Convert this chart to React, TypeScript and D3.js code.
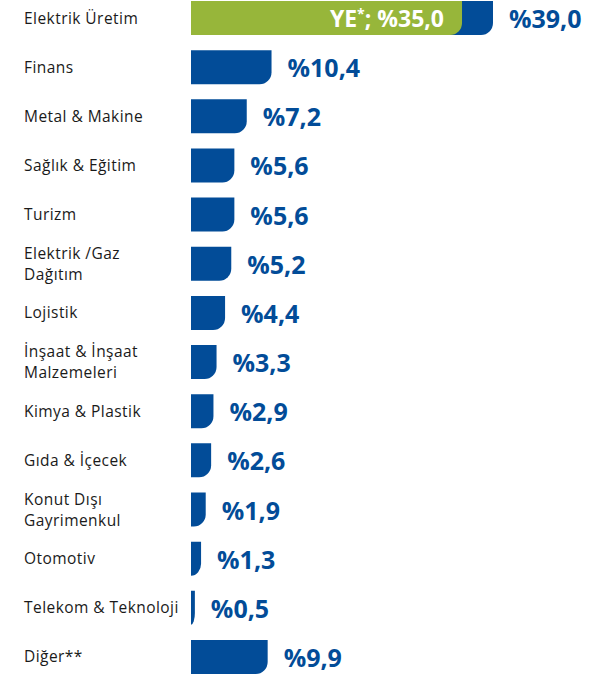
import React from "react";
import * as d3 from "d3";

const categories: string[][] = [
  ["Elektrik Üretim"],
  ["Finans"],
  ["Metal & Makine"],
  ["Sağlık & Eğitim"],
  ["Turizm"],
  ["Elektrik /Gaz", "Dağıtım"],
  ["Lojistik"],
  ["İnşaat & İnşaat", "Malzemeleri"],
  ["Kimya & Plastik"],
  ["Gıda & İçecek"],
  ["Konut Dışı", "Gayrimenkul"],
  ["Otomotiv"],
  ["Telekom & Teknoloji"],
  ["Diğer**"],
];
const values: number[] = [39.0, 10.4, 7.2, 5.6, 5.6, 5.2, 4.4, 3.3, 2.9, 2.6, 1.9, 1.3, 0.5, 9.9];
const valueLabels: string[] = ["%39,0", "%10,4", "%7,2", "%5,6", "%5,6", "%5,2", "%4,4", "%3,3", "%2,9", "%2,6", "%1,9", "%1,3", "%0,5", "%9,9"];
const subValue = 35.0;
const subLabelPre = "YE";
const subLabelSup = "*";
const subLabelPost = "; %35,0";

const W = 603;
const H = 675;
const BLUE = "#024c98";
const GREEN = "#97b63a";
const LABEL_FONT = "'Open Sans', 'Noto Sans', sans-serif";

function barPath(x0: number, y0: number, w: number, h: number, r: number): string {
  const rx = Math.min(r, w);
  const ry = Math.min(r, h);
  return `M${x0},${y0}H${x0 + w}V${y0 + h - ry}A${rx},${ry} 0 0 1 ${x0 + w - rx},${y0 + h}H${x0}Z`;
}

export default function App() {
  const x = d3.scaleLinear().domain([0, 39]).range([191, 493]);
  const pitch = 49.15;
  const barH = 34;
  const y = d3
    .scaleBand<number>()
    .domain(d3.range(values.length))
    .range([1, 1 + pitch * (values.length - 1) + barH])
    .paddingInner((pitch - barH) / pitch)
    .paddingOuter(0);
  const bh = y.bandwidth();

  return (
    <svg width={W} height={H} style={{ position: "absolute", left: 0, top: 0 }}>
      {values.map((v, i) => {
        const y0 = y(i)!;
        const cy = y0 + bh / 2;
        const x0 = x(0);
        const w = x(v) - x0;
        const lines = categories[i];
        return (
          <g key={i}>
            <path d={barPath(x0, y0, w, bh, 12)} fill={BLUE} />
            {i === 0 && (
              <>
                <path d={barPath(x0, y0, x(subValue) - x0, bh, 12)} fill={GREEN} />
                <text
                  x={x(subValue) - 18}
                  y={cy + 8.5}
                  textAnchor="end"
                  fill="#ffffff"
                  fontFamily={LABEL_FONT}
                  fontWeight={700}
                  fontSize={23}
                >
                  {subLabelPre}
                  <tspan fontSize={14} dy={-8}>{subLabelSup}</tspan>
                  <tspan dy={8}>{subLabelPost}</tspan>
                </text>
              </>
            )}
            <text
              x={x(v) + 16}
              y={cy + 10}
              fill={BLUE}
              fontFamily={LABEL_FONT}
              fontWeight={700}
              fontSize={25}
            >
              {valueLabels[i]}
            </text>
            {lines.map((t, j) => (
              <text
                key={j}
                x={24}
                y={cy + 5.5 + (j - (lines.length - 1) / 2) * 21}
                fill="#1a1a1a"
                fontFamily={LABEL_FONT}
                fontSize={15.5}
                letterSpacing={0.45}
              >
                {t}
              </text>
            ))}
          </g>
        );
      })}
    </svg>
  );
}
